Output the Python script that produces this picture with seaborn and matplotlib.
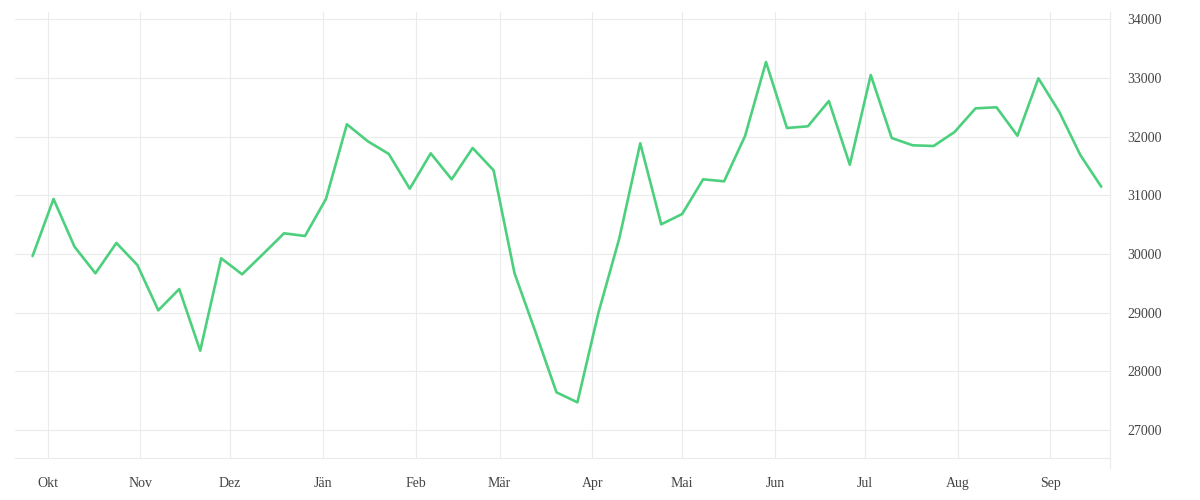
import pandas as pd
import matplotlib.pyplot as plt
import seaborn as sns

# weekly values, first week starting Mon 26 Sep 2022
first_week = "2022-09-26"
values = [
    29966, 30938, 30125, 29671, 30188, 29813, 29040, 29403, 28352, 29927,
    29654, 30000, 30353, 30307, 30938, 32211, 31921, 31705, 31113, 31716,
    31273, 31807, 31427, 29671, 28671, 27643, 27472, 28994, 30268, 31887,
    30506, 30682, 31273, 31239, 32011, 33273, 32148, 32177, 32608, 31522,
    33051, 31977, 31853, 31841, 32080, 32483, 32501, 32016, 32995, 32420,
    31688, 31147,
]

month_starts = [
    "2022-10-01", "2022-11-01", "2022-12-01", "2023-01-01", "2023-02-01",
    "2023-03-01", "2023-04-01", "2023-05-01", "2023-06-01", "2023-07-01",
    "2023-08-01", "2023-09-01",
]
month_labels = ["Okt", "Nov", "Dez", "Jän", "Feb", "Mär", "Apr", "Mai",
                "Jun", "Jul", "Aug", "Sep"]
y_ticks = [27000, 28000, 29000, 30000, 31000, 32000, 33000, 34000]

df = pd.DataFrame({
    "week": pd.date_range(first_week, periods=len(values), freq="7D"),
    "value": values,
})

sns.set_theme(style="white")
plt.rcParams["font.family"] = ["Liberation Serif", "DejaVu Serif"]

grid_col = "#ebebeb"
text_col = "#444444"

fig = plt.figure(figsize=(12, 5), dpi=100)
ax = fig.add_axes([0.0128, 0.0834, 0.9122, 0.892])
sns.lineplot(data=df, x="week", y="value", color="#4cd07d",
             linewidth=1.9, ax=ax)

ax.set_xlim(pd.Timestamp("2022-09-20 06:00"), pd.Timestamp("2023-09-20 22:00"))
ax.set_ylim(26518, 34120)
ax.set_xticks(pd.to_datetime(month_starts))
ax.set_xticklabels(month_labels)
ax.set_yticks(y_ticks)
ax.yaxis.tick_right()
ax.set_axisbelow(True)
ax.grid(True, color=grid_col, linewidth=0.8)

ax.tick_params(axis="x", length=7.2, color=grid_col, width=0.8, pad=6,
               labelsize=10, labelcolor=text_col)
ax.tick_params(axis="y", length=0, pad=12.5, labelsize=10,
               labelcolor=text_col)

for side in ["top", "left"]:
    ax.spines[side].set_visible(False)
ax.spines["bottom"].set_color(grid_col)
ax.spines["bottom"].set_linewidth(0.8)
ax.spines["right"].set_color(grid_col)
ax.spines["right"].set_linewidth(0.8)
ax.spines["right"].set_bounds(26348, 34120)

ax.set_xlabel("")
ax.set_ylabel("")

fig.savefig("out.png", dpi=100)
